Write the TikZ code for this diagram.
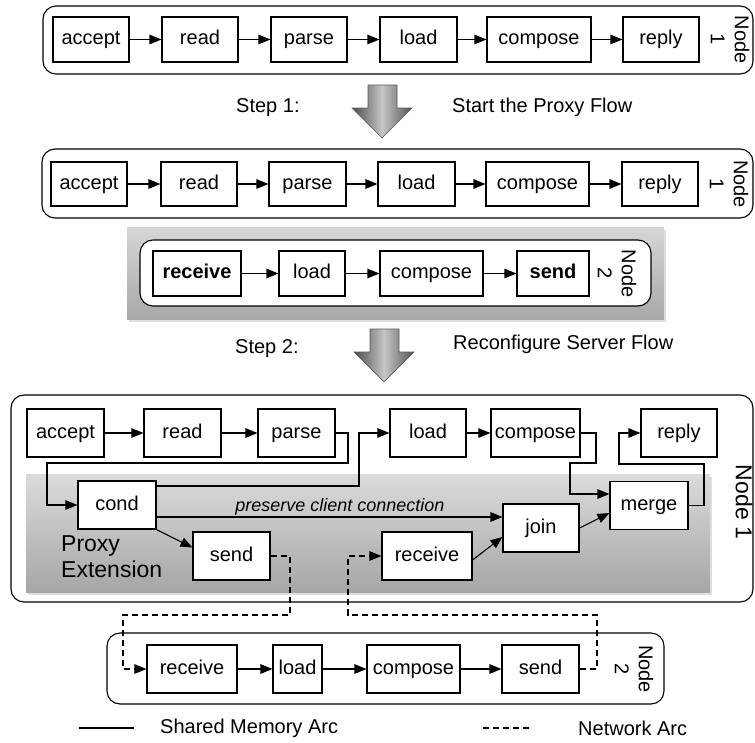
\documentclass[tikz,border=0pt]{standalone}
\usepackage{fontspec}
\setmainfont{Liberation Sans}
\usetikzlibrary{arrows.meta,shadows}
\begin{document}
\begin{tikzpicture}[x=1pt,y=-1pt,
  box/.style={draw, line width=1.1pt, fill=white, minimum height=45pt, inner sep=0pt, text height=15pt, text depth=4.5pt, font=\fontsize{20}{24}\selectfont},
  cont/.style={draw, line width=1.1pt, rounded corners=13pt},
  arr/.style={line width=1.1pt, -{Triangle[length=12pt,width=9.5pt]}},
  net/.style={arr, dash pattern=on 6pt off 4pt},
  lbl/.style={font=\fontsize{20}{24}\selectfont, align=center, rotate=-90, inner sep=0pt},
  txt/.style={font=\fontsize{20}{24}\selectfont, inner sep=0pt},
  bigarrow/.style={left color=gray!60!black, right color=gray!65!black, middle color=gray!45, draw=gray!70!black, line width=0.6pt},
  region/.style={drop shadow={shadow xshift=2pt, shadow yshift=-3pt, opacity=0.25}},
]
\useasboundingbox (0,0) rectangle (755,742);

% ---------- Block 1 ----------
\draw[cont] (43,6) rectangle (753,74);
\node[box, minimum width=76pt] (a1) at (91,39.5) {accept};
\node[box, minimum width=76pt] (r1) at (200,39.5) {read};
\node[box, minimum width=76pt] (p1) at (309,39.5) {parse};
\node[box, minimum width=77pt] (l1) at (418.5,39.5) {load};
\node[box, minimum width=104pt] (c1) at (539,39.5) {compose};
\node[box, minimum width=76pt] (y1) at (661,39.5) {reply};
\node[lbl] (n1) at (730,39.5) {Node\\1};
\draw[arr] (a1) -- (r1);
\draw[arr] (r1) -- (p1);
\draw[arr] (p1) -- (l1);
\draw[arr] (l1) -- (c1);
\draw[arr] (c1) -- (y1);

% ---------- Step 1 ----------
\node[txt, anchor=base west] (s1) at (236,112) {Step 1:};
\node[txt, anchor=base west] (s1t) at (452,112) {Start the Proxy Flow};
\shade[bigarrow] (368,85) -- (397,85) -- (397,108) -- (412,108) -- (382,138) -- (352,108) -- (368,108) -- cycle;

% ---------- Block 2 ----------
\draw[cont] (42,149) rectangle (753,218);
\node[box, minimum width=76pt, minimum height=44pt] (a2) at (89,184) {accept};
\node[box, minimum width=76pt, minimum height=44pt] (r2) at (199,184) {read};
\node[box, minimum width=77pt, minimum height=44pt] (p2) at (307.5,184) {parse};
\node[box, minimum width=77pt, minimum height=44pt] (l2) at (416.5,184) {load};
\node[box, minimum width=103pt, minimum height=44pt] (c2) at (537.5,184) {compose};
\node[box, minimum width=76pt, minimum height=44pt] (y2) at (660,184) {reply};
\node[lbl] (n2) at (729,184) {Node\\1};
\draw[arr] (a2) -- (r2);
\draw[arr] (r2) -- (p2);
\draw[arr] (p2) -- (l2);
\draw[arr] (l2) -- (c2);
\draw[arr] (c2) -- (y2);

\path[region, top color=gray!32, bottom color=gray!68] (127,227) rectangle (664,319);
\draw[cont, fill=white] (140,240) rectangle (651,306);
\node[box, minimum width=88pt, font=\fontsize{20}{24}\selectfont\bfseries] (rv2) at (197,273.5) {receive};
\node[box, minimum width=66pt] (ld2) at (312,273.5) {load};
\node[box, minimum width=103pt] (cp2) at (431.5,273.5) {compose};
\node[box, minimum width=72pt, font=\fontsize{20}{24}\selectfont\bfseries] (sd2) at (553,273.5) {send};
\node[lbl] (n22) at (617,273.5) {Node\\2};
\draw[arr] (rv2) -- (ld2);
\draw[arr] (ld2) -- (cp2);
\draw[arr] (cp2) -- (sd2);

% ---------- Step 2 ----------
\node[txt, anchor=base west] (s2) at (235,353) {Step 2:};
\node[txt, anchor=base west] (s2t) at (453,349) {Reconfigure Server Flow};
\shade[bigarrow] (370,329) -- (399,329) -- (399,352) -- (414,352) -- (384,382) -- (354,352) -- (370,352) -- cycle;

% ---------- Block 3 ----------
\draw[cont] (11,395) rectangle (753,602);
\path[region, top color=gray!28, bottom color=gray!70] (26,474) rectangle (710,592);
\node[box, minimum width=77pt, minimum height=48pt] (a3) at (65.5,433) {accept};
\node[box, minimum width=77pt, minimum height=48pt] (r3) at (182.5,433) {read};
\node[box, minimum width=77pt, minimum height=48pt] (p3) at (296.5,433) {parse};
\node[box, minimum width=76pt, minimum height=48pt] (l3) at (428,433) {load};
\node[box, minimum width=89pt, minimum height=48pt] (c3) at (535.5,433) {compose};
\node[box, minimum width=76pt, minimum height=48pt] (y3) at (679,433) {reply};
\node[box, minimum width=78pt, minimum height=48pt] (cd3) at (117,505) {cond};
\node[box, minimum width=77pt, minimum height=48pt] (sd3) at (231.5,556) {send};
\node[box, minimum width=90pt, minimum height=48pt] (rv3) at (427,556) {receive};
\node[box, minimum width=76pt, minimum height=48pt] (jn3) at (541,528) {join};
\node[box, minimum width=78pt, minimum height=48pt] (mg3) at (649,505.5) {merge};
\node[font=\fontsize{23}{26}\selectfont, align=left, anchor=west, inner sep=0pt] (px) at (61,557) {Proxy\\Extension};
\node[font=\fontsize{23}{26}\selectfont, rotate=-90, inner sep=0pt] (n3) at (744,502) {Node 1};

\draw[arr] (a3) -- (r3);
\draw[arr] (r3) -- (p3);
\draw[arr] (l3) -- (c3);
\draw[arr] (p3.east) -- (348,433) -- (348,463) -- (47,463) -- (47,505) -- (cd3.west);
\draw[arr] ([yshift=19pt]cd3.east) -- (359,486) -- (359,433) -- (l3.west);
\draw[arr] (c3.east) -- (596,433) -- (596,463) -- (570,463) -- (570,494) -- ([yshift=11.5pt]mg3.west);
\draw[arr] (mg3.east) -- (704,505.5) -- (704,464) -- (619,464) -- (619,433) -- (y3.west);
\draw[arr] ([yshift=-12pt]cd3.east) -- node[above=1pt, pos=0.53, font=\fontsize{18}{22}\selectfont\itshape, inner sep=0pt] {preserve client connection} ([yshift=11pt]jn3.west);
\draw[arr] (cd3.south east) -- ([yshift=8.5pt]sd3.west);
\draw[arr] ([yshift=-4pt]rv3.east) -- ([yshift=-9pt]jn3.west);
\draw[arr] (jn3.east) -- ([yshift=-7.5pt]mg3.west);

% ---------- Block 4 ----------
\draw[cont] (107,633) rectangle (664,704);
\node[box, minimum width=90pt, minimum height=48pt] (rv4) at (192,669) {receive};
\node[box, minimum width=49pt, minimum height=48pt] (ld4) at (297.5,669) {load};
\node[box, minimum width=93pt, minimum height=48pt] (cp4) at (413.5,669) {compose};
\node[box, minimum width=77pt, minimum height=48pt] (sd4) at (540.5,669) {send};
\node[lbl] (n4) at (634,669) {Node\\2};
\draw[arr] (rv4) -- (ld4);
\draw[arr] (ld4) -- (cp4);
\draw[arr] (cp4) -- (sd4);

\draw[net] (sd3.east) -- (290,556) -- (290,615) -- (123,615) -- (123,669) -- (rv4.west);
\draw[net] (sd4.east) -- (597,669) -- (597,615) -- (348,615) -- (348,556) -- (rv3.west);

% ---------- Legend ----------
\coordinate (la) at (79,728);
\coordinate (lb) at (134,728);
\draw[line width=1.1pt] (la) -- (lb);
\node[txt, anchor=west] (lt1) at (160,728) {Shared Memory Arc};
\coordinate (lc) at (483,728);
\coordinate (ld) at (531,728);
\draw[line width=1.1pt, dash pattern=on 6pt off 4pt] (lc) -- (ld);
\node[txt, anchor=west] (lt2) at (578,728) {Network Arc};
\end{tikzpicture}
\end{document}
